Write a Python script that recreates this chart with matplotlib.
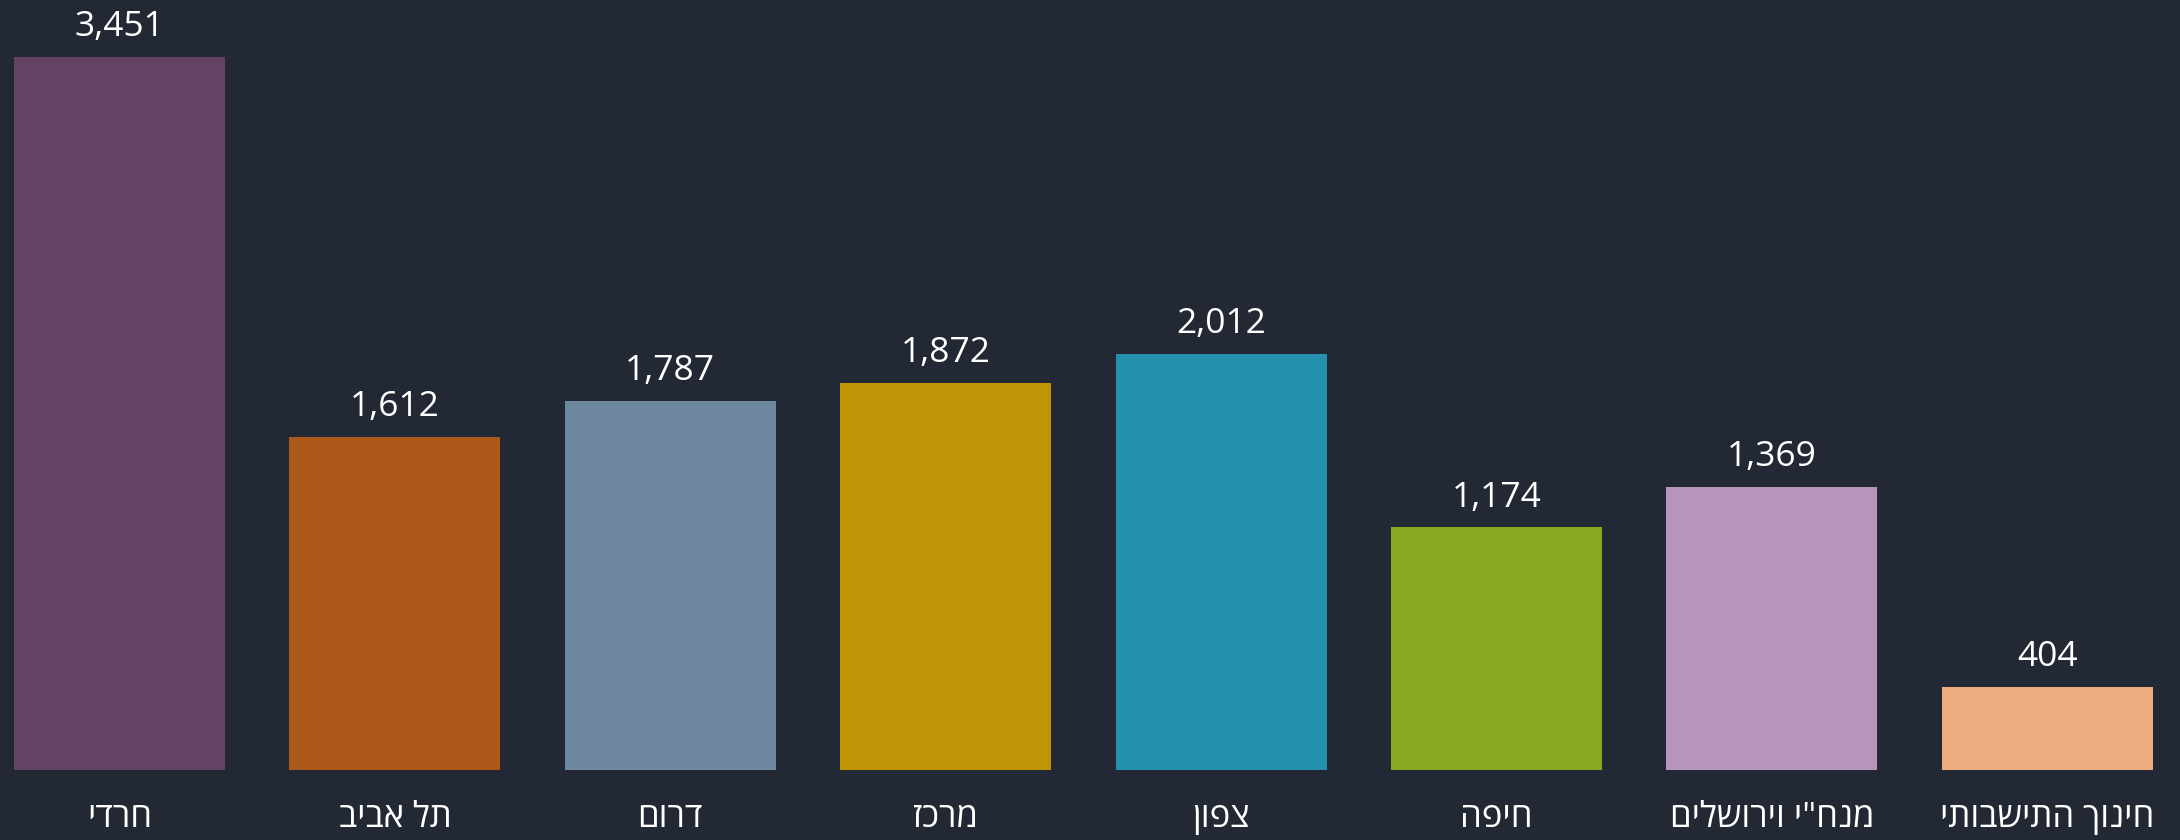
import matplotlib
matplotlib.use("Agg")
import matplotlib.pyplot as plt

categories = ["חרדי", "תל אביב", "דרום", "מרכז", "צפון", "חיפה", 'מנח"י וירושלים', "חינוך התישבותי"]
values = [3451, 1612, 1787, 1872, 2012, 1174, 1369, 404]
colors = ["#634263", "#AB5819", "#6E88A0", "#BF9505", "#2391AE", "#8AA824", "#B794BC", "#EBAC80"]

BG = "#222934"
plt.rcParams['font.family'] = ['Open Sans', 'DejaVu Sans']

def rtl(s):
    return s[::-1]

PITCH = 275.4
fig = plt.figure(figsize=(21.8, 8.4), dpi=100, facecolor=BG)
ax = fig.add_axes([0, 70/840, 1, 770/840])
ax.set_facecolor(BG)

x = list(range(len(categories)))
bars = ax.bar(x, values, width=211/PITCH, color=colors)
ax.set_xlim(-119.5/PITCH, (2180-119.5)/PITCH)
ax.set_ylim(0, 3727)

for b, v in zip(bars, values):
    ax.annotate(f"{v:,}", (b.get_x() + b.get_width()/2, b.get_height()),
                xytext=(0, 15), textcoords="offset points",
                ha="center", va="baseline", color="white", fontsize=25.5)

ax.set_xticks(x)
ax.set_xticklabels([rtl(c) for c in categories], color="white", fontsize=25)
ax.tick_params(axis='x', length=0, pad=22)
ax.set_yticks([])
for s in ax.spines.values():
    s.set_visible(False)

fig.savefig("out.png", dpi=100, facecolor=BG)
